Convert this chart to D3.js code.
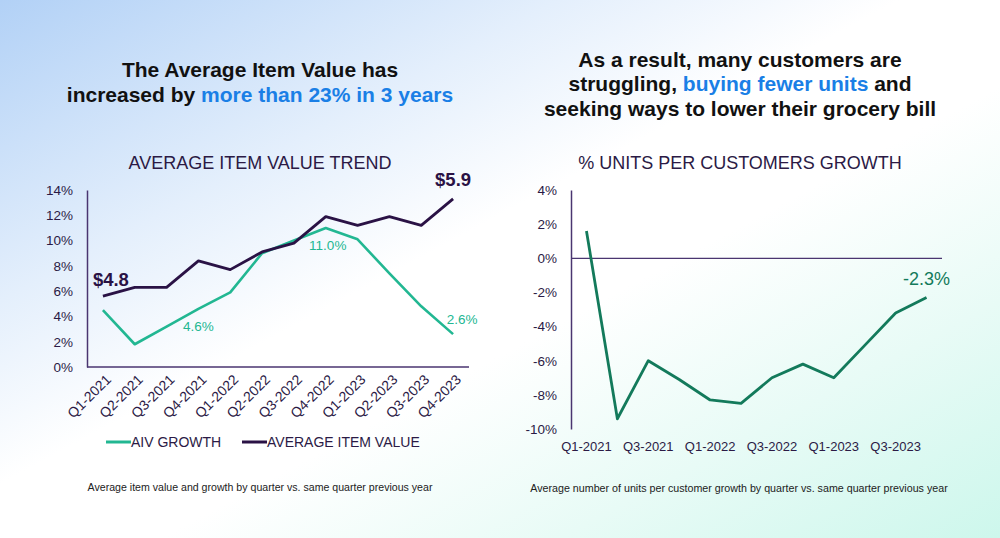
<!DOCTYPE html>
<html><head><meta charset="utf-8">
<script src="https://cdn.jsdelivr.net/npm/d3@7"></script>
<style>
html,body{margin:0;padding:0;width:1000px;height:538px;overflow:hidden;}
body{background:linear-gradient(to bottom right,#b2d1f6 0%,#e4effc 28%,#ffffff 45%,#ffffff 58%,#e8fbf6 78%,#cdf7ec 100%);}
svg text{font-family:"Liberation Sans",Arial,sans-serif;}
</style></head>
<body>
<svg id="c" width="1000" height="538"></svg>
<script>
const quarters = ["Q1-2021","Q2-2021","Q3-2021","Q4-2021","Q1-2022","Q2-2022","Q3-2022","Q4-2022","Q1-2023","Q2-2023","Q3-2023","Q4-2023"];
const aivGrowth = [4.5, 1.8, 3.2, 4.6, 5.9, 9.0, 10.0, 11.0, 10.1, 7.4, 4.8, 2.6];
const avgItemValue = [4.8, 4.9, 4.9, 5.2, 5.1, 5.3, 5.4, 5.7, 5.6, 5.7, 5.6, 5.9];
const unitsGrowth = [1.6, -9.4, -6.0, -7.1, -8.3, -8.5, -7.0, -6.2, -7.0, -5.1, -3.2, -2.3];
const leftTicks = [0, 2, 4, 6, 8, 10, 12, 14];
const rightTicks = [-10, -8, -6, -4, -2, 0, 2, 4];
const rightXLabels = ["Q1-2021","Q3-2021","Q1-2022","Q3-2022","Q1-2023","Q3-2023"];

const svg = d3.select("#c");
const TXT = "#2b1a45", AXIS = "#4a3570", TEAL = "#22b792", DARK = "#2a1245", GREEN = "#137a5b", BLUE = "#1a7fe6";

// Headlines
function headline(lines, cx, y0, dy){
  lines.forEach((parts,i)=>{
    const t = svg.append("text").attr("x",cx).attr("y",y0+i*dy).attr("text-anchor","middle")
      .attr("font-size",21).attr("font-weight","bold").attr("fill","#111");
    parts.forEach(p=>t.append("tspan").text(p[0]).attr("fill",p[1]?BLUE:"#111"));
  });
}
headline([[["The Average Item Value has",false]],[["increased by ",false],["more than 23% in 3 years",true]]],260,77,25);
headline([[["As a result, many customers are",false]],[["struggling, ",false],["buying fewer units",true],[" and",false]],[["seeking ways to lower their grocery bill",false]]],740,67,24.3);

// ---------- Left chart ----------
const xL = d3.scalePoint().domain(quarters).range([87,469]).padding(0.5);
const yL = d3.scaleLinear().domain([0,14]).range([367,190]);
const yD = d3.scaleLinear().domain([4,6]).range([367,190]);

svg.append("text").attr("x",260).attr("y",169).attr("text-anchor","middle").attr("font-size",18).attr("fill",TXT).text("AVERAGE ITEM VALUE TREND");

const gLy = svg.append("g").attr("transform","translate(87,0)")
  .call(d3.axisLeft(yL).tickValues(leftTicks).tickSize(0).tickPadding(14).tickFormat(d=>d+"%"));
gLy.select(".domain").attr("stroke",AXIS).attr("stroke-width",1.5);
gLy.selectAll("text").attr("font-size",13.5).attr("fill",TXT).attr("font-family","Liberation Sans, Arial, sans-serif");

const gLx = svg.append("g").attr("transform","translate(0,367)")
  .call(d3.axisBottom(xL).tickSize(0).tickPadding(0));
gLx.select(".domain").attr("stroke",AXIS).attr("stroke-width",1.5).attr("d","M87,0H469");
gLx.selectAll("text").attr("font-size",14).attr("fill",TXT).attr("text-anchor","end")
  .attr("font-family","Liberation Sans, Arial, sans-serif")
  .attr("dy","0.35em").attr("transform","translate(5,10) rotate(-45)");

const lineL = d3.line().x((d,i)=>xL(quarters[i])).y(d=>yL(d));
const lineD = d3.line().x((d,i)=>xL(quarters[i])).y(d=>yD(d));
svg.append("path").datum(aivGrowth).attr("d",lineL).attr("fill","none").attr("stroke",TEAL).attr("stroke-width",2.6).attr("stroke-linejoin","round");
svg.append("path").datum(avgItemValue).attr("d",lineD).attr("fill","none").attr("stroke",DARK).attr("stroke-width",2.8).attr("stroke-linejoin","round");

function lbl(x,y,t,opt){
  return svg.append("text").attr("x",x).attr("y",y).attr("text-anchor",opt.a||"middle")
    .attr("font-size",opt.s).attr("font-weight",opt.b?"bold":"normal").attr("fill",opt.c).text(t);
}
lbl(xL(quarters[0])-10, yD(avgItemValue[0])-10, "$"+avgItemValue[0], {a:"start",s:18.5,b:true,c:DARK});
lbl(xL(quarters[11]), yD(avgItemValue[11])-13, "$"+avgItemValue[11], {s:18.5,b:true,c:DARK});
lbl(xL(quarters[7])+2, yL(aivGrowth[7])+22, aivGrowth[7].toFixed(1)+"%", {s:13.5,c:TEAL});
lbl(xL(quarters[3]), yL(aivGrowth[3])+22, aivGrowth[3].toFixed(1)+"%", {s:13.5,c:TEAL});
lbl(xL(quarters[11])+9, yL(aivGrowth[11])-10, aivGrowth[11].toFixed(1)+"%", {s:13.5,c:TEAL});

// Legend
const lg = [["AIV GROWTH",TEAL,106],["AVERAGE ITEM VALUE",DARK,242]];
lg.forEach(d=>{
  svg.append("line").attr("x1",d[2]).attr("x2",d[2]+25).attr("y1",442).attr("y2",442).attr("stroke",d[1]).attr("stroke-width",3);
  svg.append("text").attr("x",d[2]+25).attr("y",447).attr("font-size",14).attr("fill",TXT).text(d[0]);
});

svg.append("text").attr("x",260).attr("y",491).attr("text-anchor","middle").attr("font-size",10.6).attr("fill","#222")
  .text("Average item value and growth by quarter vs. same quarter previous year");

// ---------- Right chart ----------
const xR = d3.scalePoint().domain(quarters).range([571,942]).padding(0.5);
const yR = d3.scaleLinear().domain([-10,4]).range([429,190]);

svg.append("text").attr("x",740).attr("y",169).attr("text-anchor","middle").attr("font-size",18).attr("fill",TXT).text("% UNITS PER CUSTOMERS GROWTH");

const gRy = svg.append("g").attr("transform","translate(571,0)")
  .call(d3.axisLeft(yR).tickValues(rightTicks).tickSize(0).tickPadding(14).tickFormat(d=>d+"%"));
gRy.select(".domain").attr("stroke",AXIS).attr("stroke-width",1.5);
gRy.selectAll("text").attr("font-size",13.5).attr("fill",TXT).attr("font-family","Liberation Sans, Arial, sans-serif");

const gRx = svg.append("g").attr("transform","translate(0,"+yR(0)+")")
  .call(d3.axisBottom(xR).tickSize(0).tickFormat(""));
gRx.select(".domain").attr("stroke",AXIS).attr("stroke-width",1.2).attr("d","M571,0H942");

svg.append("g").selectAll("text").data(rightXLabels).join("text")
  .attr("x",d=>xR(d)).attr("y",451).attr("text-anchor","middle").attr("font-size",13).attr("fill",TXT).text(d=>d);

const lineR = d3.line().x((d,i)=>xR(quarters[i])).y(d=>yR(d));
svg.append("path").datum(unitsGrowth).attr("d",lineR).attr("fill","none").attr("stroke",GREEN).attr("stroke-width",2.8).attr("stroke-linejoin","round");
lbl(xR(quarters[11]), yR(unitsGrowth[11])-13, unitsGrowth[11].toFixed(1)+"%", {s:18,c:GREEN});

svg.append("text").attr("x",739).attr("y",492).attr("text-anchor","middle").attr("font-size",10.7).attr("fill","#222")
  .text("Average number of units per customer growth by quarter vs. same quarter previous year");
</script>
</body></html>
